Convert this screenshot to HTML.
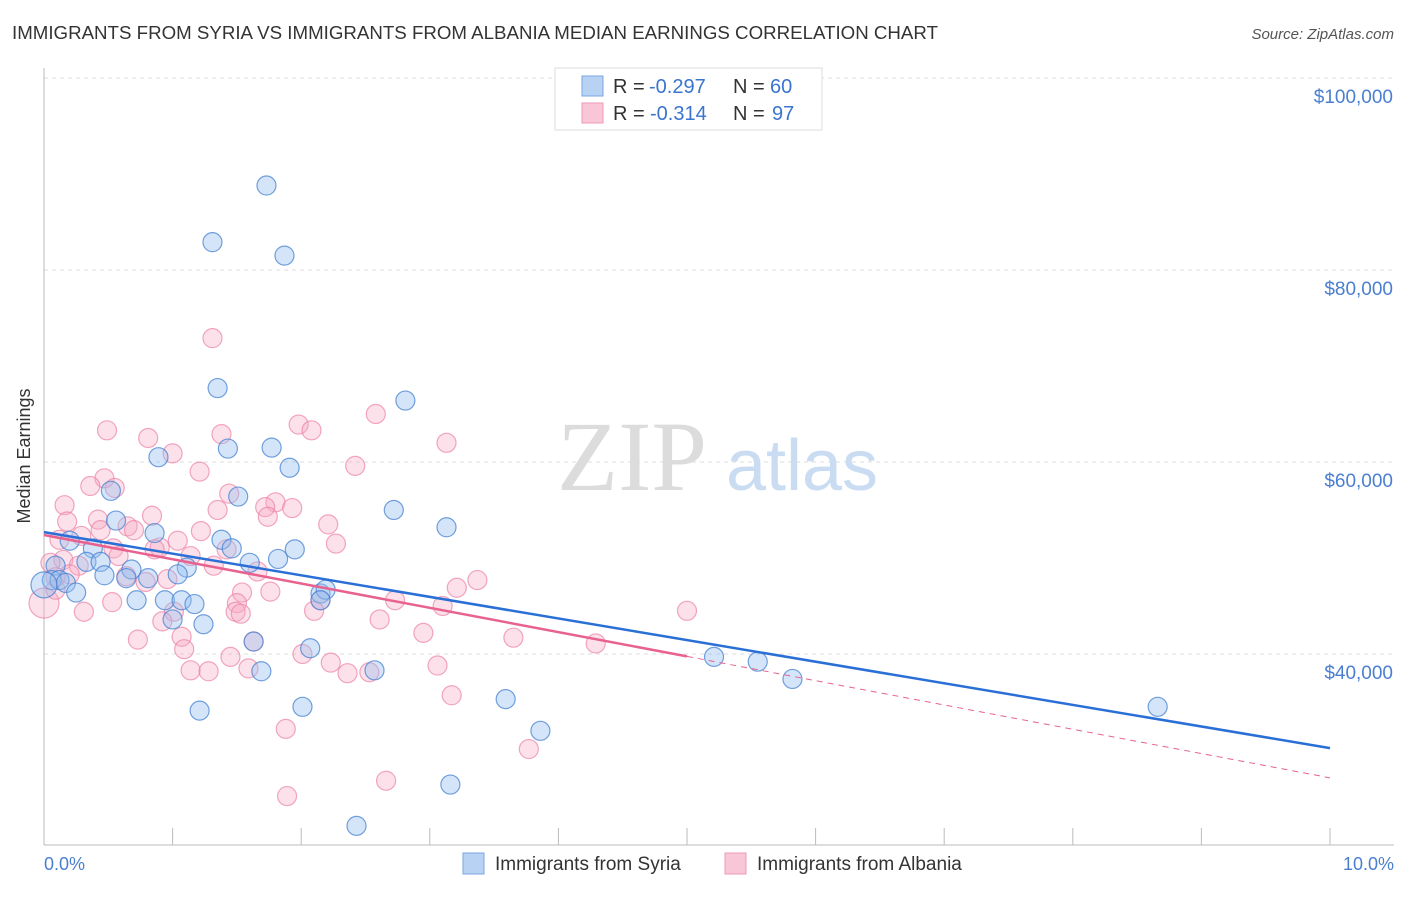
<!DOCTYPE html>
<html><head><meta charset="utf-8"><style>
body{margin:0;background:#fff;font-family:"Liberation Sans",sans-serif}
svg text{font-family:"Liberation Sans",sans-serif}
</style></head><body>
<svg id="chart" width="1406" height="892" viewBox="0 0 1406 892">
<text x="12" y="39" font-size="18" fill="#333" textLength="926" lengthAdjust="spacingAndGlyphs">IMMIGRANTS FROM SYRIA VS IMMIGRANTS FROM ALBANIA MEDIAN EARNINGS CORRELATION CHART</text>
<text x="1394" y="39" font-size="15" fill="#555" font-style="italic" text-anchor="end">Source: ZipAtlas.com</text>
<g id="grid"></g>
<text x="632" y="490" font-size="100" fill="#dcdcdc" text-anchor="middle" style="font-family:'Liberation Serif',serif">ZIP</text>
<text x="802" y="490" font-size="72" fill="#c9dcf2" text-anchor="middle">atlas</text>
<g id="points"></g>
<g id="trends"></g>
<text x="30" y="456" font-size="18" fill="#333" text-anchor="middle" transform="rotate(-90 30 456)">Median Earnings</text>
<text x="44" y="870" font-size="18" fill="#4a7fd0">0.0%</text>
<text x="1394" y="870" font-size="18" fill="#4a7fd0" text-anchor="end">10.0%</text>
<g>
<rect x="555" y="68" width="267" height="62" fill="#fff" stroke="#ddd"/>
<rect x="582" y="76" width="21" height="20" fill="#b8d2f4" stroke="#7aa6e0"/>
<rect x="582" y="103" width="21" height="20" fill="#f8c6d6" stroke="#ee9ab6"/>
<g>
<text x="613" y="93" font-size="20" fill="#333">R =</text>
<text x="649" y="93" font-size="20" fill="#3a74d0">-0.297</text>
<text x="733" y="93" font-size="20" fill="#333">N =</text>
<text x="770" y="93" font-size="20" fill="#3a74d0">60</text>
</g>
<g>
<text x="613" y="120" font-size="20" fill="#333">R =</text>
<text x="650" y="120" font-size="20" fill="#3a74d0">-0.314</text>
<text x="733" y="120" font-size="20" fill="#333">N =</text>
<text x="772" y="120" font-size="20" fill="#3a74d0">97</text>
</g>
</g>
<g>
<rect x="463" y="853" width="21" height="21" fill="#b8d2f4" stroke="#7aa6e0"/>
<text x="495" y="870" font-size="19" fill="#333">Immigrants from Syria</text>
<rect x="725" y="853" width="21" height="21" fill="#f8c6d6" stroke="#ee9ab6"/>
<text x="757" y="870" font-size="19" fill="#333">Immigrants from Albania</text>
</g>
</svg>
<script>
const yTicks=[40000,60000,80000,100000];
const yTickLabels=["$40,000","$60,000","$80,000","$100,000"];
const xTicks=[0,1,2,3,4,5,6,7,8,9,10];
const syriaX=[1.73,1.31,1.87,1.35,2.81,0.89,1.43,1.77,1.91,0.52,1.51,2.72,3.13,0.56,0.86,1.38,1.95,1.46,0.20,0.38,1.60,1.82,0.33,0.44,0.09,0.68,1.11,1.04,0.47,0.64,0.81,0.06,0.12,0.17,0.0,0.25,0.72,0.94,1.07,1.17,2.15,2.19,1.0,1.24,1.63,2.07,2.57,1.69,5.21,5.55,5.82,1.21,2.01,3.59,3.86,8.66,3.16,2.43,2.15];
const syriaY=[88.8,82.9,81.5,67.7,66.4,60.5,61.4,61.5,59.4,57.0,56.4,55.0,53.2,53.9,52.6,51.9,50.9,51.0,51.8,51.0,49.5,49.9,49.6,49.6,49.2,48.8,49.0,48.3,48.2,47.9,47.9,47.7,47.7,47.4,47.2,46.4,45.6,45.6,45.6,45.2,46.3,46.7,43.6,43.1,41.3,40.6,38.3,38.2,39.7,39.2,37.4,34.1,34.5,35.3,32.0,34.5,26.4,22.1,45.6];
const albaniaX=[1.31,2.58,1.98,2.08,0.49,1.38,0.81,3.13,1.0,2.42,1.21,0.47,0.36,0.55,1.44,0.16,1.80,1.72,1.93,1.35,0.84,0.18,0.42,1.74,2.21,0.65,0.44,0.70,1.22,0.29,1.04,2.27,0.12,0.54,0.90,0.86,1.42,0.58,1.14,0.15,0.05,0.27,1.32,1.66,0.64,0.96,0.79,3.37,3.21,0.09,0.20,1.54,1.76,0.53,2.73,2.15,1.50,3.10,5.0,0.31,1.01,2.10,1.49,1.53,0.92,2.61,2.95,1.07,0.73,3.65,4.29,1.63,1.09,2.01,1.45,2.23,3.06,1.14,1.28,1.59,2.36,2.53,3.17,1.88,3.77,2.66,1.89,0.0,0.09];
const albaniaY=[72.9,65.0,63.9,63.3,63.3,62.9,62.5,62.0,60.9,59.6,59.0,58.3,57.5,57.3,56.7,55.5,55.8,55.3,55.2,55.0,54.4,53.8,54.0,54.3,53.5,53.3,52.9,52.9,52.8,52.3,51.8,51.5,51.9,51.0,51.1,50.9,50.9,50.2,50.2,49.8,49.5,49.2,49.2,48.6,48.1,47.8,47.5,47.7,46.9,48.0,48.3,46.4,46.5,45.4,45.6,45.6,45.3,45.0,44.5,44.4,44.4,44.5,44.4,44.2,43.4,43.6,42.2,41.8,41.5,41.7,41.1,41.3,40.5,40.0,39.7,39.1,38.8,38.3,38.2,38.5,38.0,38.1,35.7,32.2,30.1,26.8,25.2,45.3,46.7];
const syriaTrend=[52.7,30.2];
const albaniaTrend=[52.4,27.1];
const albaniaSolidEnd=5.0;

const NS="http://www.w3.org/2000/svg";
const xS=v=>44+v*128.6;
const yS=v=>78+(100000-v)/20000*192;
const yK=v=>yS(v*1000);
function mk(tag,attrs,parent){const e=document.createElementNS(NS,tag);for(const k in attrs)e.setAttribute(k,attrs[k]);parent.appendChild(e);return e;}
const grid=document.getElementById('grid');
yTicks.forEach((t,i)=>{
  const l=mk('line',{x1:44,x2:1394,y1:yS(t),y2:yS(t),stroke:'#ddd','stroke-dasharray':'4,4'},grid);
  
  
  const tx=mk('text',{x:1393,y:yS(t)+25,'font-size':19,fill:'#4a7fd0','text-anchor':'end'},grid);
  tx.textContent=yTickLabels[i];
  
  
});
const ax=mk('line',{x1:44,x2:44,y1:68,y2:845,stroke:'#bbb'},grid);


const bx=mk('line',{x1:44,x2:1394,y1:845,y2:845,stroke:'#bbb'},grid);


xTicks.forEach(t=>{
  const l=mk('line',{x1:xS(t),x2:xS(t),y1:828,y2:845,stroke:'#bbb'},grid);
  
  
});
const pts=document.getElementById('points');
albaniaX.forEach((x,i)=>{
  const big=(x===0);
  const c=mk('circle',{cx:xS(x),cy:yK(albaniaY[i]),r:big?15:9.5,fill:'rgba(246,170,195,0.35)',stroke:'rgba(236,130,165,0.7)','stroke-width':1.2},pts);
  
  
});
syriaX.forEach((x,i)=>{
  const big=(x===0);
  const c=mk('circle',{cx:xS(x),cy:yK(syriaY[i]),r:big?13:9.5,fill:'rgba(150,190,240,0.4)',stroke:'rgba(70,130,210,0.75)','stroke-width':1.2},pts);
  
  
});
const tr=document.getElementById('trends');
const s1=mk('line',{x1:xS(0),y1:yK(syriaTrend[0]),x2:xS(10),y2:yK(syriaTrend[1]),stroke:'#2a6fd6','stroke-width':2.5},tr);


const aMid=albaniaTrend[0]+(albaniaTrend[1]-albaniaTrend[0])*albaniaSolidEnd/10;
const a1=mk('line',{x1:xS(0),y1:yK(albaniaTrend[0]),x2:xS(albaniaSolidEnd),y2:yK(aMid),stroke:'#e8628f','stroke-width':2.5},tr);


const a2=mk('line',{x1:xS(albaniaSolidEnd),y1:yK(aMid),x2:xS(10),y2:yK(albaniaTrend[1]),stroke:'#e8628f','stroke-width':1,'stroke-dasharray':'6,5'},tr);


</script>
</body></html>
